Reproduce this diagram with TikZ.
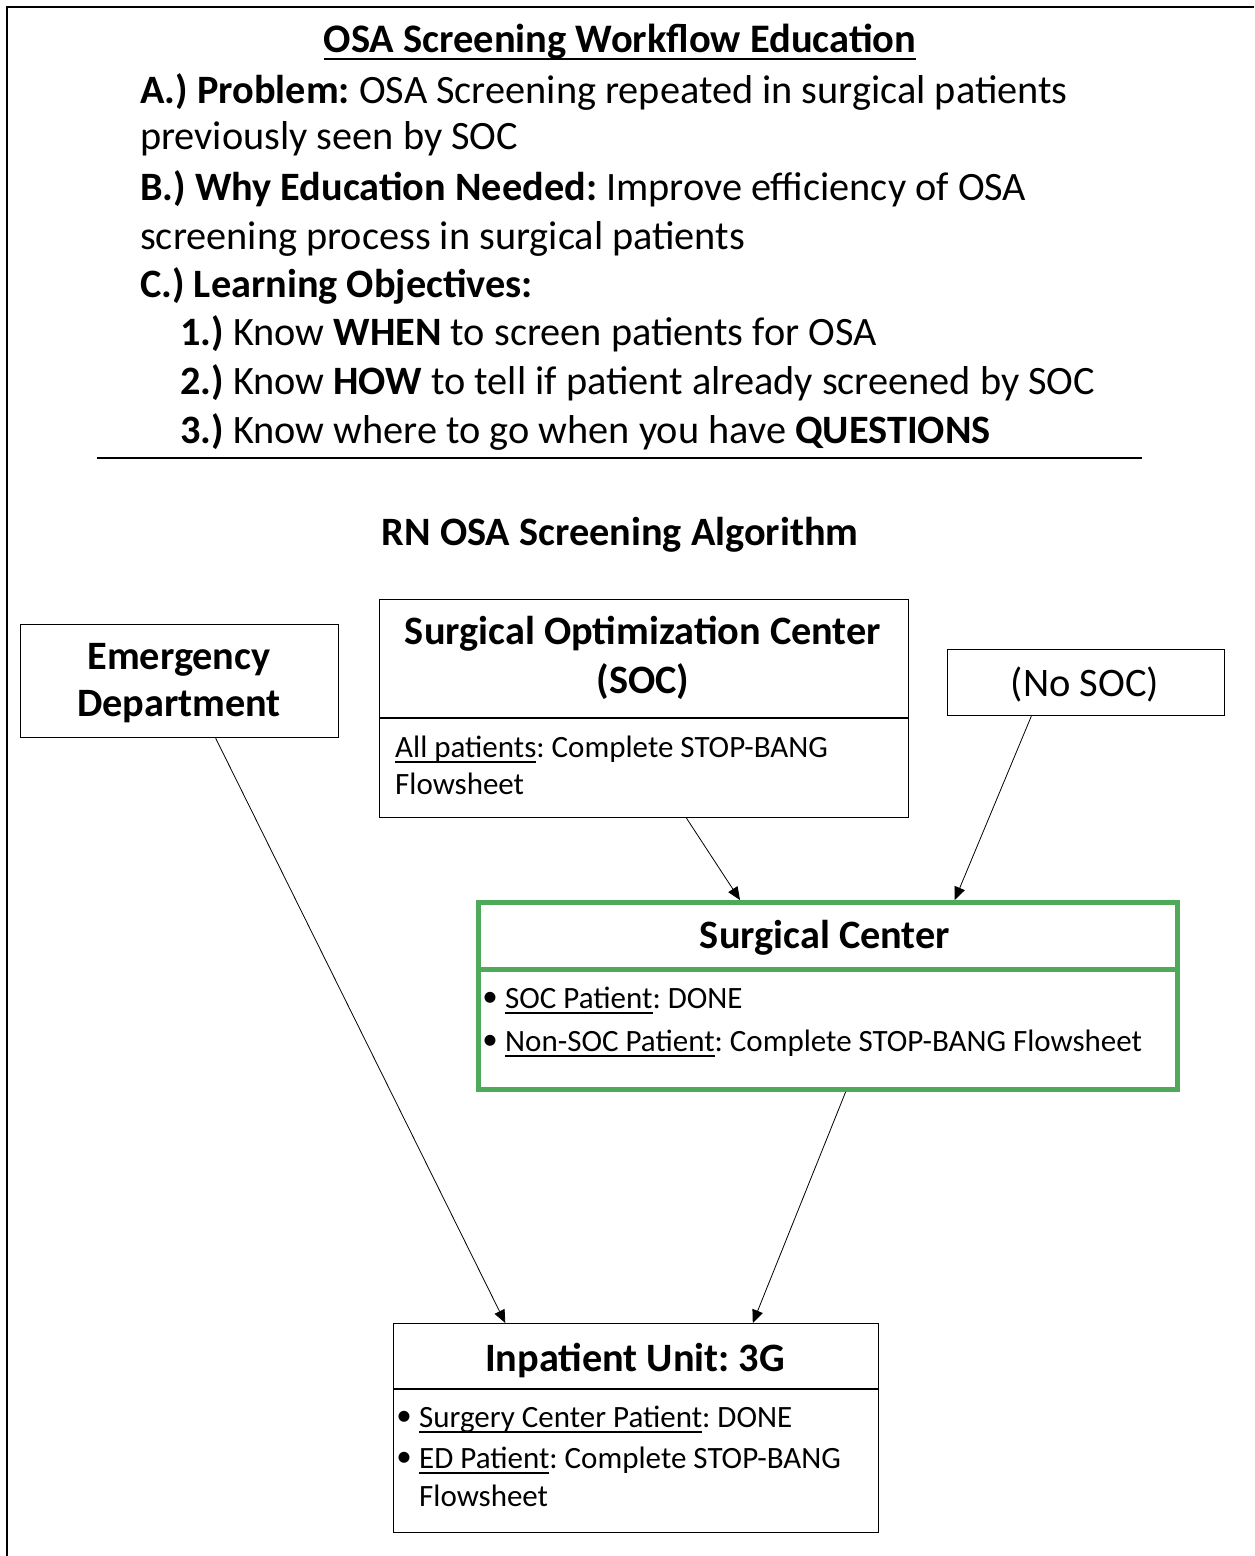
\documentclass[tikz,border=0pt]{standalone}
\usepackage{fontspec}
\setmainfont{Carlito}
\usetikzlibrary{arrows.meta,calc}
\definecolor{scgreen}{RGB}{78,170,88}
\frenchspacing
% underline that cuts through descenders, as in word-processor output
\newcommand\uln[1]{\setbox0=\hbox{#1}\rlap{\rule[-0.2em]{\wd0}{0.06em}}\box0}
\begin{document}
\begin{tikzpicture}[x=1pt,y=-1pt,
  hd/.style={anchor=base west,inner sep=0pt,font=\fontsize{40.3}{40}\selectfont},
  ttl/.style={anchor=base,inner sep=0pt,align=center,font=\bfseries\fontsize{40.3}{47}\selectfont},
  body/.style={anchor=base west,inner sep=0pt,font=\fontsize{31}{31}\selectfont},
  dot/.style={inner sep=0pt,font=\fontsize{31}{31}\selectfont},
  frame/.style={draw,line width=1.2pt},
  boxnode/.style={frame,anchor=north west,inner sep=0pt},
  link/.style={-{Triangle[length=13pt,width=11pt]},line width=0.8pt}]
\useasboundingbox (0,0) rectangle (1254,1556);
\fill[white] (0,0) rectangle (1254,1556);

% page frame
\draw[line width=2.2pt] (7,1556) -- (7,7) -- (1254,7);

% education header
\node[anchor=base,inner sep=0pt,font=\bfseries\fontsize{40.5}{40}\selectfont] (title) at (620,52)
  {\uln{OSA Screening Workflow Education}};
\node[hd] (la1) at (140,103) {\textbf{A.) Problem:} OSA Screening repeated in surgical patients};
\node[hd] (la2) at (140,149) {previously seen by SOC};
\node[hd] (lb1) at (140,200) {\textbf{B.) Why Education Needed:} Improve efficiency of OSA};
\node[hd] (lb2) at (140,249) {screening process in surgical patients};
\node[hd] (lc) at (140,297) {\textbf{C.) Learning Objectives:}};
\node[hd] (o1) at (180,345) {\textbf{1.)} Know \textbf{WHEN} to screen patients for OSA};
\node[hd] (o2) at (180,394) {\textbf{2.)} Know \textbf{HOW} to tell if patient already screened by SOC};
\node[hd] (o3) at (180,443) {\textbf{3.)} Know where to go when you have \textbf{QUESTIONS}};
\draw[line width=2.2pt] (97,458) -- (1142,458);

% algorithm heading
\node[anchor=base,inner sep=0pt,font=\bfseries\fontsize{40.3}{40}\selectfont] (algo) at (620,545)
  {RN OSA Screening Algorithm};

% Emergency Department (base anchor sits on the last line)
\node[boxnode,minimum width=318pt,minimum height=113pt] (ed) at (20,624) {};
\node[ttl] (edt) at (179,716) {Emergency\\Department};

% Surgical Optimization Center
\node[boxnode,minimum width=529pt,minimum height=218pt] (soc) at (379,599) {};
\draw[frame] (379,718) -- (908,718);
\node[ttl,font=\bfseries\fontsize{40.3}{49}\selectfont] (soct) at (643,693) {Surgical Optimization Center\\(SOC)};
\node[body] (socb1) at (395,757) {\uln{All patients}: Complete STOP-BANG};
\node[body] (socb2) at (395,794) {Flowsheet};

% No SOC
\node[boxnode,minimum width=277pt,minimum height=66pt] (nosoc) at (947,649) {};
\node[anchor=base,inner sep=0pt,font=\fontsize{40.5}{40}\selectfont] (nosoct) at (1085,696) {(No SOC)};

% Surgical Center
\node[draw=scgreen,line width=5pt,anchor=north west,inner sep=0pt,
      minimum width=699pt,minimum height=187pt] (sc) at (476,900) {};
\draw[scgreen,line width=5pt] (476,969) -- (1175,969);
\node[ttl] (sct) at (825,948) {Surgical Center};
\node[dot] (scd1) at (490,999) {•};
\node[body] (scb1) at (505,1008) {\uln{SOC Patient}: DONE};
\node[dot] (scd2) at (490,1042) {•};
\node[body] (scb2) at (505,1051) {\uln{Non-SOC Patient}: Complete STOP-BANG Flowsheet};

% Inpatient Unit
\node[boxnode,minimum width=485pt,minimum height=209pt] (iu) at (393,1323) {};
\draw[frame] (393,1389) -- (878,1389);
\node[ttl] (iut) at (635,1371) {Inpatient Unit: 3G};
\node[dot] (iud1) at (404,1418) {•};
\node[body] (iub1) at (419,1427) {\uln{Surgery Center Patient}: DONE};
\node[dot] (iud2) at (404,1459) {•};
\node[body] (iub2) at (419,1468) {\uln{ED Patient}: Complete STOP-BANG};
\node[body] (iub3) at (419,1506) {Flowsheet};

% connectors
\draw[link] ($(ed.south west)!0.613!(ed.south east)$) -- ($(iu.north west)!0.231!(iu.north east)$);
\draw[link] ($(soc.south west)!0.580!(soc.south east)$) -- ($(sc.north west)!0.375!(sc.north east)$);
\draw[link] ($(nosoc.south west)!0.303!(nosoc.south east)$) -- ($(sc.north west)!0.680!(sc.north east)$);
\draw[link] ($(sc.south west)!0.525!(sc.south east)$) -- ($(iu.north west)!0.740!(iu.north east)$);
\end{tikzpicture}
\end{document}
